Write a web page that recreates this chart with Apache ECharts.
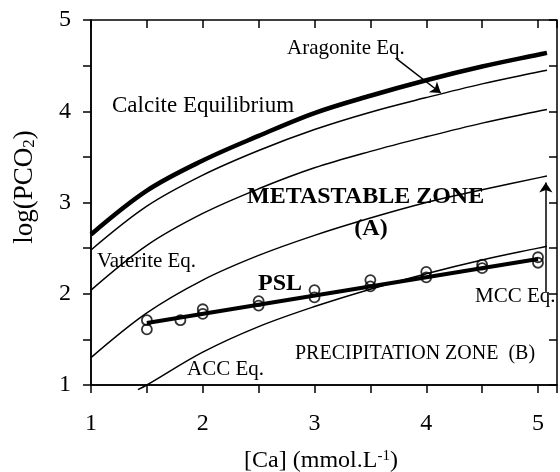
<!DOCTYPE html>
<html>
<head>
<meta charset="utf-8">
<script src="https://cdn.jsdelivr.net/npm/echarts@6/dist/echarts.min.js"></script>
<style>html,body{margin:0;padding:0;background:#fff}#main{width:560px;height:472px}</style>
</head>
<body>
<div id="main"></div>
<script>
// equilibrium curves, log(PCO2)
var caX = [1, 1.5, 2, 2.5, 3, 3.5, 4, 4.5, 5, 5.08];
var calcite = [2.65, 3.13, 3.46, 3.73, 3.98, 4.17, 4.34, 4.49, 4.62, 4.64];
var aragonite = [2.48, 2.96, 3.30, 3.57, 3.80, 3.99, 4.15, 4.30, 4.43, 4.45];
var vaterite = [2.04, 2.53, 2.88, 3.15, 3.38, 3.56, 3.72, 3.87, 4.00, 4.02];
var mcc = [1.30, 1.79, 2.15, 2.42, 2.64, 2.83, 3.00, 3.14, 3.27, 3.29];
var accX = [1.42, 1.5, 2, 2.5, 3, 3.5, 4, 4.5, 5, 5.08];
var acc = [0.95, 1.00, 1.36, 1.64, 1.86, 2.05, 2.22, 2.37, 2.50, 2.52];
// measured points (PSL)
var pslX = [1.5, 1.5, 1.8, 2, 2, 2.5, 2.5, 3, 3, 3.5, 3.5, 4, 4, 4.5, 4.5, 5, 5];
var pslY = [1.71, 1.61, 1.71, 1.78, 1.83, 1.92, 1.87, 2.04, 1.96, 2.15, 2.08, 2.24, 2.18, 2.32, 2.28, 2.40, 2.34];
var pslLineX = [1.5, 5];
var pslLineY = [1.68, 2.38];
// tick labels
var xTicks = [1, 2, 3, 4, 5];
var yTicks = [1, 2, 3, 4, 5];
// annotation arrows (data units)
var aragArrow = [[3.73, 4.58], [4.13, 4.20]];
var mccArrow = [[5.07, 2.02], [5.07, 3.22]];

function zip(xs, ys) {
    var out = [];
    for (var i = 0; i < xs.length; i++) out.push([xs[i], ys[i]]);
    return out;
}

var serif = '"Liberation Serif", "Times New Roman", serif';
var myChart = echarts.init(document.getElementById('main'), null, { renderer: 'canvas' });

function curve(name, xs, ys, w) {
    return {
        name: name, type: 'line', data: zip(xs, ys), showSymbol: false, smooth: 0.35,
        silent: true, lineStyle: { color: '#000', width: w }, clip: false
    };
}

function axisBase(ticks, inside, showLabel) {
    return {
        type: 'value', min: 1, interval: 0.5,
        axisLine: { show: !inside, lineStyle: { color: '#000', width: 1.5 } },
        axisTick: { show: true, inside: inside, length: 8, lineStyle: { color: '#000', width: 1.5 } },
        axisLabel: {
            show: showLabel, color: '#000', fontFamily: serif, fontSize: 24,
            formatter: function (v) { return ticks.indexOf(v) >= 0 ? String(v) : ''; }
        },
        splitLine: { show: false }
    };
}

var xMain = axisBase(xTicks, false, true); xMain.max = 5.17; xMain.axisLabel.margin = 27;
var xIn = axisBase(xTicks, true, false); xIn.max = 5.17;
var yMain = axisBase(yTicks, false, true); yMain.max = 5; yMain.axisLabel.margin = 20;
var yIn = axisBase(yTicks, true, false); yIn.max = 5;

function txt(text, x, y, size, bold, align) {
    return {
        type: 'text', x: x, y: y, silent: true,
        style: {
            text: text, fill: '#000', textAlign: align || 'left', textVerticalAlign: 'middle',
            font: (bold ? 'bold ' : '') + size + 'px ' + serif
        }
    };
}

var option = {
    animation: false,
    backgroundColor: '#fff',
    grid: { left: 91, right: 2, top: 20, bottom: 87, show: true, borderColor: '#000', borderWidth: 1.5 },
    xAxis: [xMain, xIn],
    yAxis: [yMain, yIn],
    series: [
        curve('Calcite', caX, calcite, 4.5),
        curve('Aragonite', caX, aragonite, 1.5),
        curve('Vaterite', caX, vaterite, 1.5),
        curve('MCC', caX, mcc, 1.5),
        curve('ACC', accX, acc, 1.5),
        {
            name: 'PSL', type: 'line', data: zip(pslLineX, pslLineY), showSymbol: false,
            silent: true, lineStyle: { color: '#000', width: 4 }
        },
        {
            name: 'points', type: 'scatter', data: zip(pslX, pslY), symbol: 'circle', symbolSize: 10,
            silent: true, itemStyle: { color: 'rgba(0,0,0,0)', borderColor: '#000', borderWidth: 1.8 }
        },
        {
            type: 'lines', coordinateSystem: 'cartesian2d', silent: true,
            symbol: ['none', 'arrow'], symbolSize: 10,
            lineStyle: { color: '#000', width: 1.5, opacity: 1 },
            data: [{ coords: aragArrow }, { coords: mccArrow }]
        }
    ],
    graphic: [
        txt('Aragonite Eq.', 287, 48, 21),
        txt('Calcite Equilibrium', 112, 106, 23),
        txt('METASTABLE ZONE', 247, 197, 24, true),
        txt('(A)', 371, 229, 24, true, 'center'),
        txt('Vaterite Eq.', 97, 261, 21),
        txt('PSL', 258, 284, 24, true),
        txt('ACC Eq.', 187, 369, 21),
        txt('PRECIPITATION ZONE  (B)', 295, 354, 20),
        txt('MCC Eq.', 475, 296, 21),
        {
            type: 'text', x: 321, y: 461, silent: true,
            style: {
                text: '{a|[Ca] (mmol.L}{s|-1}{a|)}', textAlign: 'center', textVerticalAlign: 'middle',
                rich: {
                    a: { fontFamily: serif, fontSize: 24, fill: '#000', color: '#000' },
                    s: { fontFamily: serif, fontSize: 15, fill: '#000', color: '#000', verticalAlign: 'top' }
                }
            }
        },
        {
            type: 'text', x: 25, y: 187, rotation: Math.PI / 2, silent: true,
            style: {
                text: '{a|log(PCO}{s|2}{a|)}', textAlign: 'center', textVerticalAlign: 'middle',
                rich: {
                    a: { fontFamily: serif, fontSize: 27, fill: '#000', color: '#000' },
                    s: { fontFamily: serif, fontSize: 17, fill: '#000', color: '#000', verticalAlign: 'bottom' }
                }
            }
        }
    ]
};
myChart.setOption(option);
</script>
</body>
</html>
